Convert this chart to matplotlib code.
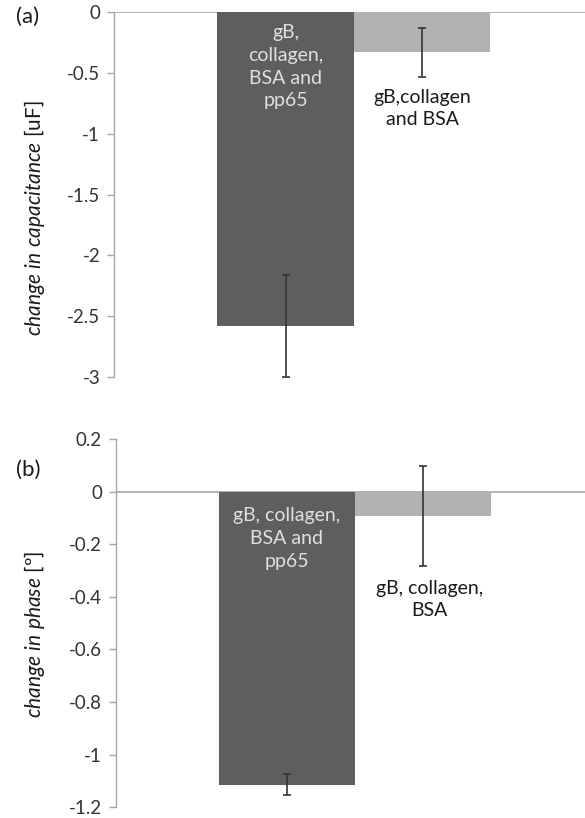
# plot.py
# Two-panel bar chart: change in capacitance (a) and change in phase (b).

import matplotlib
matplotlib.use('Agg')
import matplotlib.pyplot as plt

plt.rcParams['font.family'] = ['Lato', 'DejaVu Sans']
plt.rcParams['mathtext.fontset'] = 'custom'
plt.rcParams['mathtext.rm'] = 'Lato'
plt.rcParams['mathtext.it'] = 'Lato:italic'

# data
cap_values = [-2.58, -0.33]
cap_errors = [0.42, 0.20]
cap_labels = ['gB,\ncollagen,\nBSA and\npp65', 'gB,collagen\nand BSA']
cap_ticks = [0, -0.5, -1, -1.5, -2, -2.5, -3]

phase_values = [-1.115, -0.093]
phase_errors = [0.04, 0.19]
phase_labels = ['gB, collagen,\nBSA and\npp65', 'gB, collagen,\nBSA']
phase_ticks = [0.2, 0, -0.2, -0.4, -0.6, -0.8, -1, -1.2]

bar_colors = ['#5e5e5e', '#b2b2b2']
axis_grey = '#a6a6a6'
text_grey = '#333333'
x = [0, 1]

fig = plt.figure(figsize=(5.85, 8.18), dpi=100)
ax_a = fig.add_axes([0.195, 0.539, 0.805, 0.446])
ax_b = fig.add_axes([0.198, 0.0131, 0.802, 0.4502])


def style_axis(ax, ticks):
    for side in ['top', 'right', 'bottom']:
        ax.spines[side].set_visible(False)
    ax.spines['left'].set_color(axis_grey)
    ax.spines['left'].set_linewidth(1.0)
    ax.set_yticks(ticks)
    ax.set_yticklabels(['%g' % t for t in ticks])
    ax.tick_params(axis='y', colors=axis_grey, labelcolor=text_grey,
                   labelsize=13.5, length=5, width=1.0, pad=5)
    ax.set_xticks([])
    ax.set_xlim(-1.256, 2.194)
    ax.axhline(0, color=axis_grey, linewidth=1.2, zorder=1)


# (a) capacitance
ax_a.bar(x, cap_values, width=1.0, color=bar_colors, zorder=2)
ax_a.errorbar(x, cap_values, yerr=cap_errors, fmt='none', ecolor='#333333',
              elinewidth=1.2, capsize=3, capthick=1.2, zorder=3)
ax_a.set_ylim(-3, 0)
style_axis(ax_a, cap_ticks)
ax_a.text(x[0], -0.1, cap_labels[0], ha='center', va='top', fontsize=14,
          color='#e0e0e0', linespacing=1.4)
ax_a.text(x[1], -0.63, cap_labels[1], ha='center', va='top', fontsize=14,
          color='#1a1a1a', linespacing=1.4)
ax_a.set_ylabel(r'$\mathit{change\ in\ capacitance}$ [uF]', fontsize=15,
                color='#1a1a1a')
ax_a.yaxis.set_label_coords(-0.142, 0.436)
fig.text(0.028, 0.979, '(a)', fontsize=16, color='#1a1a1a', va='center')

# (b) phase
ax_b.bar(x, phase_values, width=1.0, color=bar_colors, zorder=2)
ax_b.errorbar(x, phase_values, yerr=phase_errors, fmt='none', ecolor='#333333',
              elinewidth=1.2, capsize=3, capthick=1.2, zorder=3)
ax_b.set_ylim(-1.2, 0.2)
style_axis(ax_b, phase_ticks)
ax_b.text(x[0], -0.06, phase_labels[0], ha='center', va='top', fontsize=14,
          color='#e0e0e0', linespacing=1.4)
ax_b.text(x[1] + 0.05, -0.335, phase_labels[1], ha='center', va='top',
          fontsize=14, color='#1a1a1a', linespacing=1.4)
ax_b.set_ylabel(r'$\mathit{change\ in\ phase}$ [º]', fontsize=15,
                color='#1a1a1a')
ax_b.yaxis.set_label_coords(-0.147, 0.468)
fig.text(0.028, 0.425, '(b)', fontsize=16, color='#1a1a1a', va='center')

fig.savefig('out.png', dpi=100)
